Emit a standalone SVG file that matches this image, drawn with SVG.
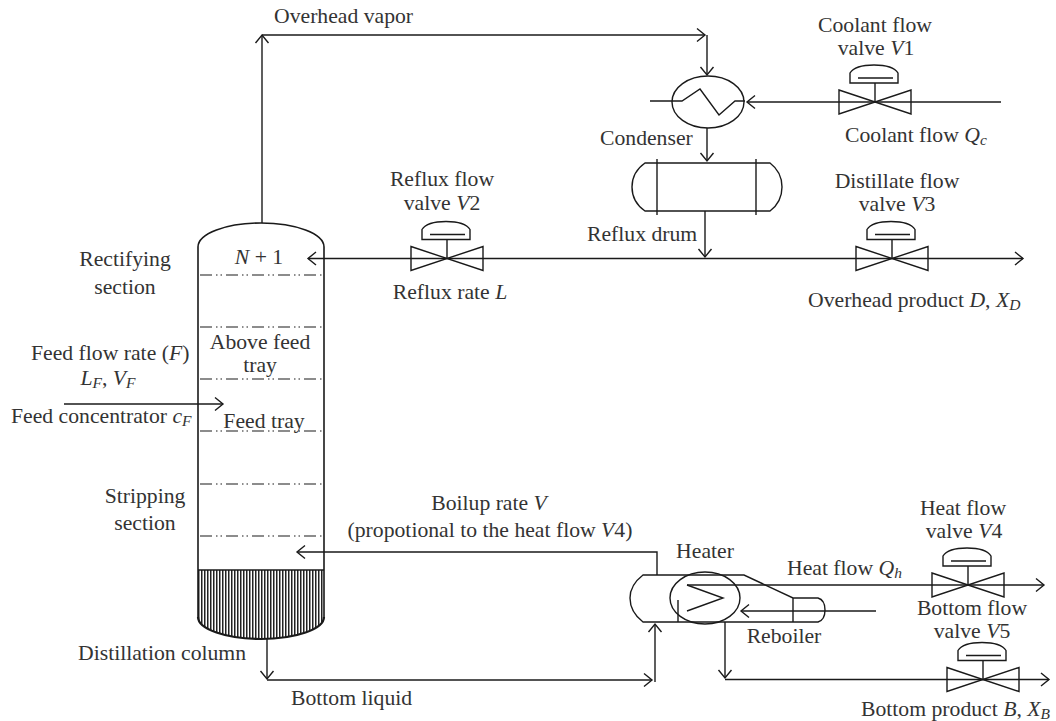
<svg xmlns="http://www.w3.org/2000/svg" xmlns:xlink="http://www.w3.org/1999/xlink" width="1056" height="721" viewBox="0 0 1056 721">
<style>
.l{fill:none;stroke:#1a1a1a;stroke-width:1.4}
.a{marker-end:url(#arr)}
.t{fill:none;stroke:#1a1a1a;stroke-width:1.2;stroke-dasharray:12 4 1.5 3 1.5 4}
text{font-family:"Liberation Serif","Times New Roman",serif;font-size:21.7px;fill:#333}
.c{text-anchor:middle}
.i{font-style:italic}
.s{font-style:italic;font-size:15.500px}
</style>
<defs>
<marker id="arr" markerUnits="userSpaceOnUse" markerWidth="14" markerHeight="16" refX="10" refY="7" orient="auto" overflow="visible">
<path d="M2 0.5L10 7L2 13.5" fill="none" stroke="#1a1a1a" stroke-width="1.4"/>
</marker>
<pattern id="hatch" patternUnits="userSpaceOnUse" width="3" height="10" x="198">
<rect width="3" height="10" fill="#fff"/><rect width="1.5" height="10" fill="#222"/>
</pattern>
<g id="valve">
<path class="l" d="M-36 -12L36 12V-12L-36 12Z"/>
<path class="l" d="M0 0V-19M-25 -19V-29Q-20 -37 -1 -37Q18 -37 23 -29V-19ZM-17 -24H18"/>
</g>
</defs>
<rect width="1056" height="721" fill="#fff"/>
<g id="connectors">
<path class="l a" d="M262 223V35"/>
<path class="l a" d="M262 35H705"/>
<path class="l a" d="M707 35V75"/>
<path class="l a" d="M1001 102H747"/>
<path class="l a" d="M707 128V161"/>
<path class="l a" d="M705 211V257"/>
<path class="l a" d="M705 258.500H308"/>
<path class="l a" d="M705 258.500H1023"/>
<path class="l a" d="M64 404H223"/>
<path class="l a" d="M657 575V552H297"/>
<path class="l a" d="M267 639V679"/>
<path class="l a" d="M267 680H652"/>
<path class="l a" d="M655 682V624"/>
<path class="l a" d="M725 622V678"/>
<path class="l a" d="M725 679.500H1049"/>
<path class="l a" d="M687 585H1044"/>
<path class="l a" d="M876 611H741"/>
</g>
<g id="column">
<path d="M198 570H324V617A63 22 0 0 1 198 617Z" fill="url(#hatch)"/>
<path class="l" style="stroke-width:1.6" d="M198 617V247A63 24 0 0 1 324 247V617M198 570H324"/>
<path class="l" style="stroke-width:2.2" d="M198 617A63 22 0 0 0 324 617"/>
<path class="t" d="M200 275H324M200 327H324M200 379H324M200 431H324M200 484H324M200 536H324"/>
</g>
<g id="condenser">
<ellipse class="l" cx="708" cy="102" rx="36" ry="26"/>
<path class="l" d="M650 101H682L700 89L719 115L735 101H745"/>
</g>
<g id="reflux-drum">
<path class="l" d="M645 163H770Q782 172 782 187Q782 202 770 211H645Q632 202 632 187Q632 172 645 163ZM657 159V215M756 159V215"/>
</g>
<g id="heater">
<path class="l" d="M643 575H744L793 598H818Q825 600 825 610Q825 620 818 622H643Q630 612 630 598Q630 585 643 575ZM793 598V622M678 600V622"/>
<ellipse class="l" cx="705" cy="598" rx="35" ry="26"/>
<path class="l" d="M687 585L723 598L687 611"/>
</g>
<use id="valve-v1" xlink:href="#valve" href="#valve" x="875" y="102"/>
<use id="valve-v2" xlink:href="#valve" href="#valve" x="447" y="258.500"/>
<use id="valve-v3" xlink:href="#valve" href="#valve" x="892" y="258.500"/>
<use id="valve-v4" xlink:href="#valve" href="#valve" x="968" y="585"/>
<use id="valve-v5" xlink:href="#valve" href="#valve" x="983" y="679.500"/>
<g id="labels">
<text x="274" y="23">Overhead vapor</text>
<text class="c" x="875" y="32">Coolant flow</text>
<text class="c" x="876" y="55">valve <tspan class="i">V</tspan>1</text>
<text x="845" y="142">Coolant flow <tspan class="i">Q</tspan><tspan class="s" dy="3">c</tspan></text>
<text x="600" y="145">Condenser</text>
<text x="587" y="241">Reflux drum</text>
<text class="c" x="897" y="188">Distillate flow</text>
<text class="c" x="897" y="211">valve <tspan class="i">V</tspan>3</text>
<text x="808" y="307">Overhead product <tspan class="i">D</tspan>, <tspan class="i">X</tspan><tspan class="s" dy="3">D</tspan></text>
<text class="c" x="442" y="186">Reflux flow</text>
<text class="c" x="442" y="210">valve <tspan class="i">V</tspan>2</text>
<text class="c" x="450" y="299">Reflux rate <tspan class="i">L</tspan></text>
<text class="c" x="125" y="266">Rectifying</text>
<text class="c" x="125" y="294">section</text>
<text class="c" x="259" y="264"><tspan class="i">N</tspan> + 1</text>
<text class="c" x="260" y="349">Above feed</text>
<text class="c" x="260" y="372">tray</text>
<text x="31" y="360">Feed flow rate (<tspan class="i">F</tspan>)</text>
<text class="c" x="108" y="385"><tspan class="i">L</tspan><tspan class="s" dy="3">F</tspan><tspan dy="-3">, </tspan><tspan class="i">V</tspan><tspan class="s" dy="3">F</tspan></text>
<text x="11" y="423">Feed concentrator <tspan class="i">c</tspan><tspan class="s" dy="3">F</tspan></text>
<text class="c" x="264" y="428">Feed tray</text>
<text class="c" x="145" y="503">Stripping</text>
<text class="c" x="145" y="530">section</text>
<text x="78" y="660">Distillation column</text>
<text x="291" y="705">Bottom liquid</text>
<text class="c" x="489" y="510">Boilup rate <tspan class="i">V</tspan></text>
<text class="c" x="490" y="537">(propotional to the heat flow <tspan class="i">V</tspan>4)</text>
<text class="c" x="705" y="558">Heater</text>
<text x="787" y="575">Heat flow <tspan class="i">Q</tspan><tspan class="s" dy="3">h</tspan></text>
<text class="c" x="963" y="515">Heat flow</text>
<text class="c" x="964" y="538">valve <tspan class="i">V</tspan>4</text>
<text class="c" x="972" y="615">Bottom flow</text>
<text class="c" x="972" y="638">valve <tspan class="i">V</tspan>5</text>
<text class="c" x="784" y="643">Reboiler</text>
<text x="861" y="716">Bottom product <tspan class="i">B</tspan>, <tspan class="i">X</tspan><tspan class="s" dy="3">B</tspan></text>
</g>
</svg>
